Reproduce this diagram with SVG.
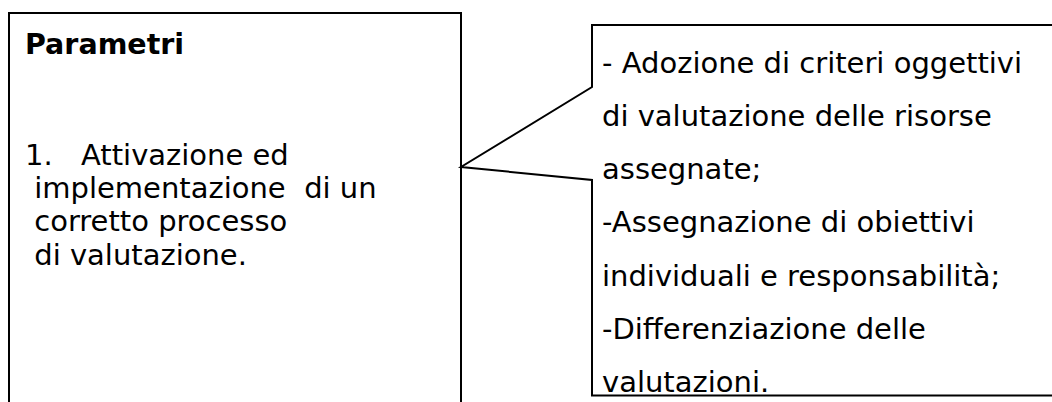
<svg xmlns="http://www.w3.org/2000/svg" width="1052" height="402" viewBox="0 0 1052 402">
<style>
.box{fill:none;stroke:#000;stroke-width:2;stroke-linejoin:miter}
.t{font-family:"DejaVu Sans","Verdana",sans-serif;font-size:29px;fill:#000;white-space:pre}
.b{font-family:"DejaVu Sans","Verdana",sans-serif;font-size:28.5px;font-weight:bold;fill:#000}
</style>
<rect width="1052" height="402" fill="#fff"/>
<g id="parametri">
<path class="box" d="M9 410 V13 H461 V410"/>
<text class="b" x="25" y="54">Parametri</text>
<text class="t" xml:space="preserve" x="25" y="165">1.<tspan x="81">Attivazione ed</tspan></text>
<text class="t" xml:space="preserve" x="25" y="198"> implementazione  di un</text>
<text class="t" xml:space="preserve" x="25" y="231"> corretto processo</text>
<text class="t" xml:space="preserve" x="25" y="265"> di valutazione.</text>
</g>
<g id="connectors">
<path class="box" d="M1060 25 H592 V87 L461 167 L592 180 V395.5 H1060"/>
</g>
<g id="criteri">
<text class="t" x="602" y="73">- Adozione di criteri oggettivi</text>
<text class="t" x="602" y="126">di valutazione delle risorse</text>
<text class="t" x="602" y="179">assegnate;</text>
<text class="t" x="602" y="232">-Assegnazione di obiettivi</text>
<text class="t" x="602" y="286">individuali e responsabilità;</text>
<text class="t" x="602" y="339">-Differenziazione delle</text>
<text class="t" x="602" y="392">valutazioni.</text>
</g>
</svg>
